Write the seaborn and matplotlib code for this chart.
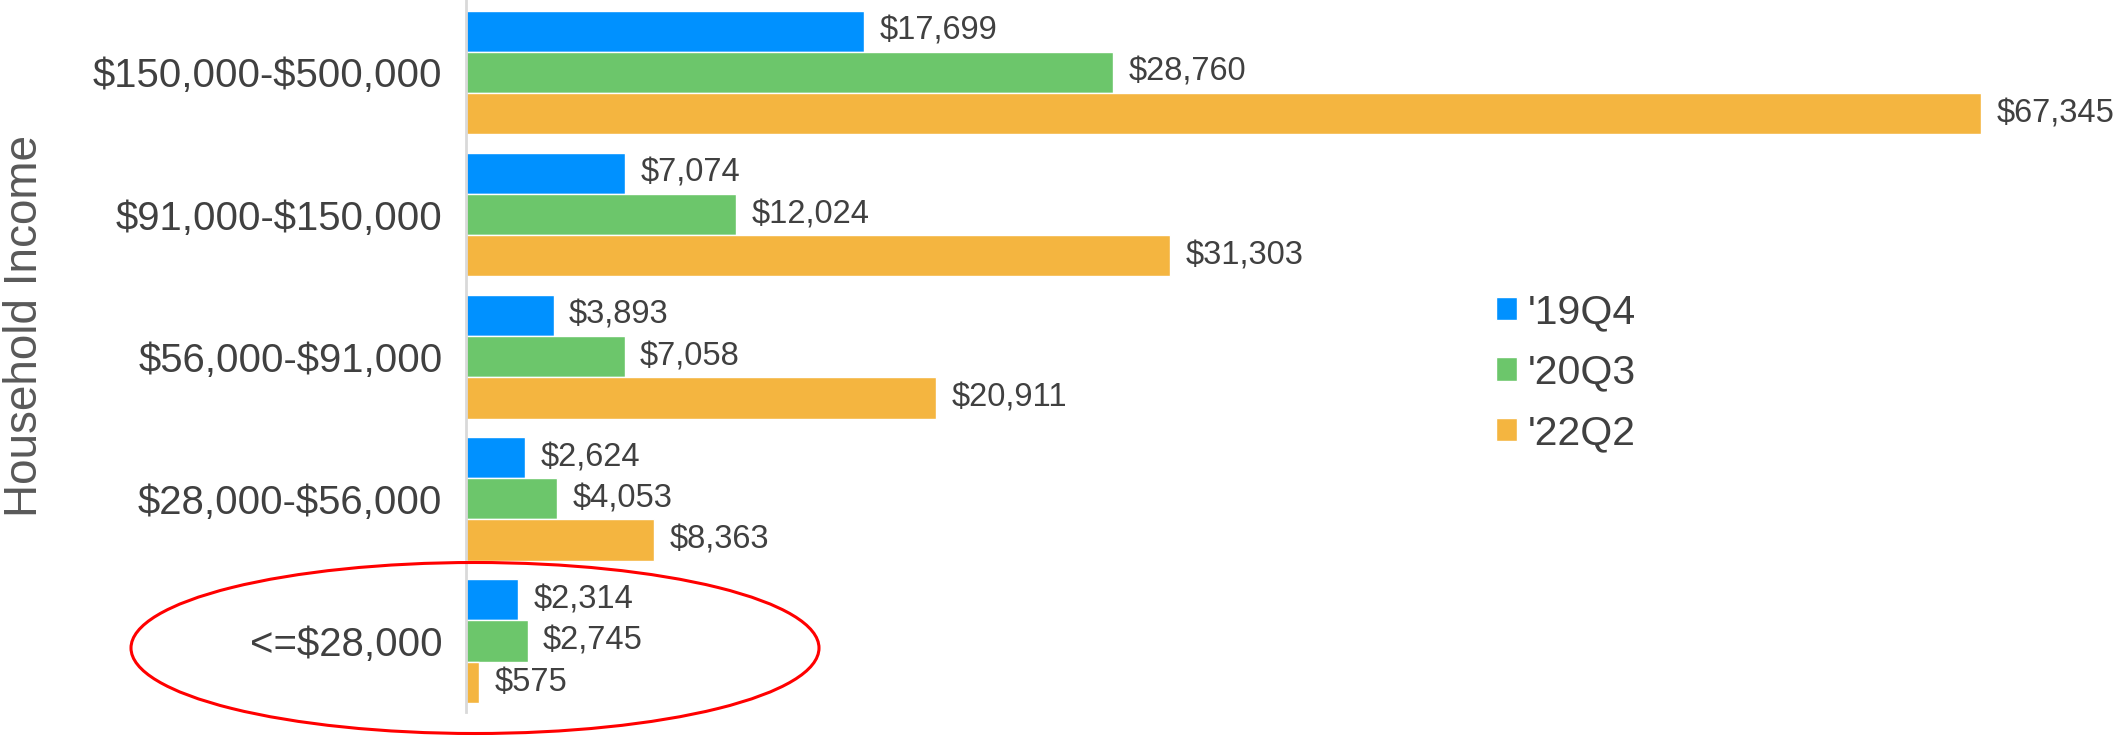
import pandas as pd
import seaborn as sns
import matplotlib.pyplot as plt
from matplotlib.patches import Ellipse

# Data
incomes = ["$150,000-$500,000", "$91,000-$150,000", "$56,000-$91,000",
           "$28,000-$56,000", "<=$28,000"]
quarters = ["'19Q4", "'20Q3", "'22Q2"]
q19_4 = [17699, 7074, 3893, 2624, 2314]
q20_3 = [28760, 12024, 7058, 4053, 2745]
q22_2 = [67345, 31303, 20911, 8363, 575]
colors = ["#0091FF", "#6CC66B", "#F4B540"]

df = pd.DataFrame({
    "income": incomes * 3,
    "quarter": [q for q in quarters for _ in incomes],
    "value": q19_4 + q20_3 + q22_2,
})

sns.set_style("white")
plt.rcParams['font.family'] = ['Liberation Sans', 'DejaVu Sans']
plt.rcParams['text.parse_math'] = False

fig = plt.figure(figsize=(21.19, 7.36), dpi=100)
ax = fig.add_axes([466 / 2119, 24 / 736, 1 - 466 / 2119, 712 / 736])

sns.barplot(data=df, y="income", x="value", hue="quarter", order=incomes,
            hue_order=quarters, palette=colors, saturation=1, width=0.87,
            orient="h", ax=ax, errorbar=None)

for cont in ax.containers:
    ax.bar_label(cont, labels=[f"${v:,.0f}" for v in cont.datavalues],
                 padding=11, fontsize=23.5, color="#404040")

ax.set_xlim(0, 73480)
ax.set_ylim(4.5, -0.51)
ax.set_xticks([])
ax.set_xlabel("")
ax.tick_params(axis="y", length=0, pad=17, labelsize=28.9, labelcolor="#404040")
for s in ["top", "right", "bottom"]:
    ax.spines[s].set_visible(False)
ax.spines["left"].set_color("#d9d9d9")
ax.spines["left"].set_linewidth(2)

ax.set_ylabel("Household Income", fontsize=33, color="#595959")
ax.yaxis.label.set_va("center")
ax.yaxis.set_label_coords((25 - 466) / 1653, 1 - 326 / 712)

leg = ax.legend(loc="upper left", bbox_to_anchor=(1496 / 2119, 1 - 293 / 736),
                bbox_transform=fig.transFigure, frameon=False, fontsize=29.5,
                handlelength=0.52, handleheight=0.52, handletextpad=0.25,
                labelspacing=0.55, borderpad=0, borderaxespad=0)
for t in leg.get_texts():
    t.set_color("#404040")

# highlight the lowest income group
fig.add_artist(Ellipse((475 / 2119, 1 - 648 / 736), 688 / 2119, 171 / 736,
                       transform=fig.transFigure, fill=False,
                       edgecolor="red", linewidth=2.2))

fig.savefig("out.png", dpi=100)
